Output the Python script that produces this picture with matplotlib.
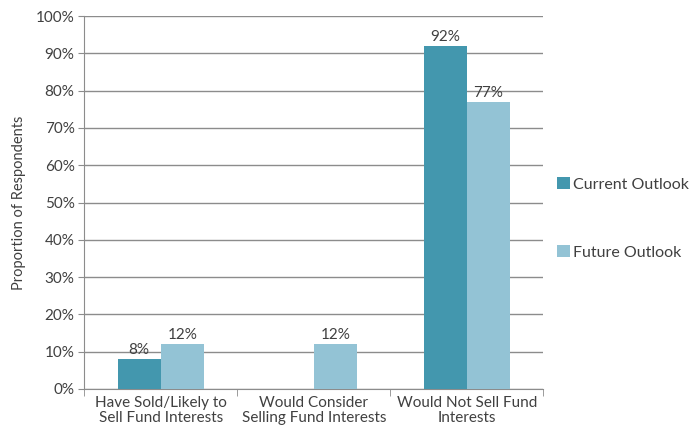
import numpy as np
import matplotlib.pyplot as plt
from matplotlib.ticker import PercentFormatter

# Survey responses (% of respondents)
categories = ["Have Sold/Likely to\nSell Fund Interests",
              "Would Consider\nSelling Fund Interests",
              "Would Not Sell Fund\nInterests"]
current_outlook = [8, 0, 92]
future_outlook = [12, 12, 77]
current_labels = ["8%", "", "92%"]
future_labels = ["12%", "12%", "77%"]

dark_teal = "#4397ae"
light_blue = "#93c3d5"
grid_grey = "#8c8c8c"
text_col = "#404040"

plt.rcParams["font.family"] = ["Lato", "DejaVu Sans"]
plt.rcParams["font.size"] = 10.5

fig = plt.figure(figsize=(6.99, 4.34), dpi=100)
ax = fig.add_axes([0.1206, 0.1037, 0.6567, 0.8594])

x = np.arange(len(categories))
w = 0.283
b1 = ax.bar(x - w / 2, current_outlook, w, color=dark_teal, label="Current Outlook", zorder=3)
b2 = ax.bar(x + w / 2, future_outlook, w, color=light_blue, label="Future Outlook", zorder=3)

for bars, labels in ((b1, current_labels), (b2, future_labels)):
    for rect, lab in zip(bars, labels):
        if lab:
            ax.text(rect.get_x() + rect.get_width() / 2, rect.get_height() + 0.6, lab,
                    ha="center", va="bottom", color=text_col, fontsize=11)

ax.set_xlim(-0.5, len(categories) - 0.5)
ax.set_ylim(0, 100)
ax.set_yticks(np.arange(0, 101, 10))
ax.yaxis.set_major_formatter(PercentFormatter(decimals=0))
ax.grid(axis="y", color=grid_grey, linewidth=1, zorder=0)

# category labels centred, tick marks at group boundaries
ax.set_xticks(x)
ax.set_xticklabels(categories, color=text_col, linespacing=1.1, fontsize=11)
ax.tick_params(axis="x", length=0, pad=5)
ax.set_xticks(np.arange(-0.5, len(categories), 1), minor=True)
ax.tick_params(axis="x", which="minor", length=5, color=grid_grey, direction="out")
ax.tick_params(axis="y", length=4, color=grid_grey, colors=text_col, pad=3, labelsize=11)

for side in ("top", "right"):
    ax.spines[side].set_visible(False)
for side in ("left", "bottom"):
    ax.spines[side].set_color(grid_grey)

ax.set_ylabel("Proportion of Respondents", color=text_col, labelpad=7)

handles, labels = ax.get_legend_handles_labels()
fig.legend(handles, labels, loc="center left", bbox_to_anchor=(0.797, 0.497),
           frameon=False, borderpad=0, borderaxespad=0,
           handlelength=0.8, handleheight=0.8, handletextpad=0.2,
           labelspacing=3.35, fontsize=11.5, labelcolor=text_col)

fig.savefig("out.png", dpi=100)
